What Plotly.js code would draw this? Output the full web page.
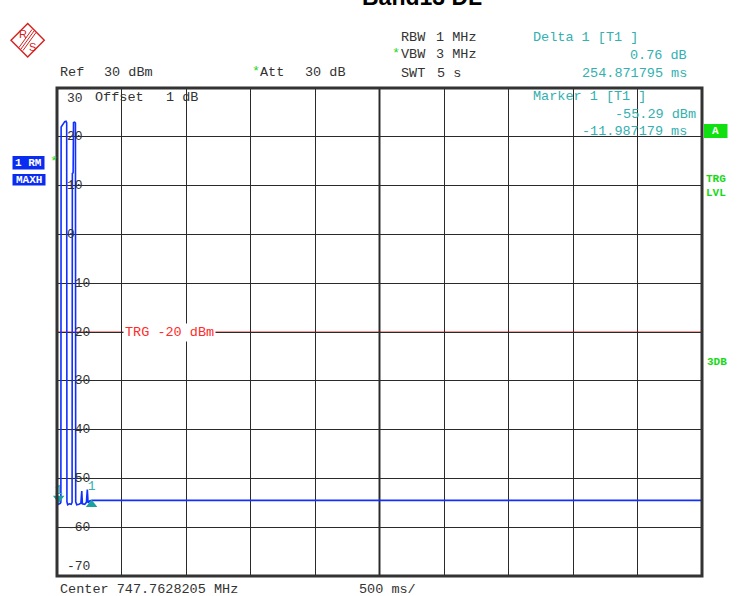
<!DOCTYPE html>
<html>
<head>
<meta charset="utf-8">
<script src="https://cdn.plot.ly/plotly-3.0.1.min.js"></script>
<style>html,body{margin:0;padding:0;background:#fff;}#chart{width:751px;height:596px;}</style>
</head>
<body>
<div id="chart"></div>
<script>
// ---------- data ----------
const timeMs   = [-25, -15, 0, 5, 7, 15, 25, 35, 45, 50, 52, 58, 70, 85, 92, 94, 100, 103, 112, 118, 120, 128, 145, 160, 167, 172, 190, 203, 210, 216, 230, 250, 500, 1000, 1500, 2000, 2500, 3000, 3500, 4000, 4500, 4975];
const levelDbm = [-55.0, -55.3, -55.1, -54.9, 22.0, 22.3, 22.7, 23.1, 23.2, 22.9, -54.8, -55.4, -55.2, -55.3, -54.9, 12.5, 12.6, 22.9, 23.0, 22.8, -54.8, -55.4, -55.3, -55.1, -52.6, -55.2, -55.3, -54.9, -52.3, -55.0, -54.6, -54.5, -54.5, -54.5, -54.5, -54.5, -54.5, -54.5, -54.5, -54.5, -54.5, -54.5];
const markerTimeMs   = [-11.987179, 242.884616];   // Marker 1, Delta 1 (= M1 + 254.871795 ms)
const markerLevelDbm = [-55.29, -54.53];
const yTickVals = [30, 20, 10, 0, -10, -20, -30, -40, -50, -60, -70];
const yTickText = ['30', '20', '10', '0', '-10', '-20', '-30', '-40', '-50', '-60', '-70'];
const triggerLevelDbm = -20;
const sweepStartMs = -25, sweepMs = 5000, divMs = 500;
const refLevel = 30, bottomLevel = -70;

// ---------- geometry helpers (layout only) ----------
const L = 57, W = 645, T = 88, H = 488;
const px = x => (x - L) / W;
const py = y => (T + H - y) / H;
const MONO = 'Liberation Mono, Courier New, monospace';
const GRAY = '#333333', TEAL = '#33b0b0', GREEN = '#18d818', BLUE = '#0a2cf0', RED = '#ff2a2a';

function txt(text, x, y, color, opts) {
  return Object.assign({
    text: text, xref: 'paper', yref: 'paper', x: px(x), y: py(y),
    xanchor: 'left', yanchor: 'middle', showarrow: false, borderpad: 0,
    font: {family: MONO, size: 13.5, color: color || GRAY}
  }, opts || {});
}

const annotations = [
  // title (cut off at top)
  {text: '<b>Band13 DL</b>', xref: 'paper', yref: 'paper', x: px(422), y: py(11), xanchor: 'center', yanchor: 'bottom',
   showarrow: false, borderpad: 0, font: {family: 'Liberation Sans, Arial, sans-serif', size: 23, color: '#000'}},
  txt('Ref', 59, 73), txt('30 dBm', 103, 73),
  txt('*', 251, 72, GREEN), txt('Att', 259, 73), txt('30 dB', 304, 73),
  txt('RBW', 400, 38), txt('1 MHz', 435, 38),
  txt('*', 391, 54, GREEN), txt('VBW', 400, 55), txt('3 MHz', 435, 55),
  txt('SWT', 400, 73.5), txt('5 s', 435.5, 73.5),
  txt('Delta 1 [T1 ]', 532, 38, TEAL),
  txt('0.76 dB', 688, 55.5, TEAL, {xanchor: 'right'}),
  txt('254.871795 ms', 688, 73.5, TEAL, {xanchor: 'right'}),
  txt('Marker 1 [T1 ]', 532, 96.5, TEAL),
  txt(markerLevelDbm[0].toFixed(2) + ' dBm', 697, 114.5, TEAL, {xanchor: 'right'}),
  txt(markerTimeMs[0].toFixed(6) + ' ms', 688, 131.5, TEAL, {xanchor: 'right'}),
  txt('Offset', 94, 98), txt('1 dB', 165, 98),
  txt('Center 747.7628205 MHz', 58.5, 589), txt(divMs + ' ms/', 357.5, 589),
  txt('<b>1 RM</b>', 28.5, 162.5, '#fff', {xanchor: 'center', font: {family: MONO, size: 11, color: '#fff'}}),
  txt('*', 48.5, 161, GREEN),
  txt('<b>MAXH</b>', 29, 179.5, '#fff', {xanchor: 'center', font: {family: MONO, size: 11, color: '#fff'}}),
  txt('<b>A</b>', 715.5, 131, '#fff', {xanchor: 'center', font: {family: MONO, size: 11, color: '#fff'}}),
  txt('<b>TRG</b>', 705, 178.5, GREEN, {font: {family: MONO, size: 11, color: GREEN}}),
  txt('<b>LVL</b>', 705, 193, GREEN, {font: {family: MONO, size: 11, color: GREEN}}),
  txt('<b>3DB</b>', 705.5, 362, GREEN, {font: {family: MONO, size: 11, color: GREEN}}),
  // R&S logo letters
  txt('R', 22.5, 34.5, '#d42020', {xanchor: 'center', font: {family: 'Liberation Sans, Arial', size: 11, color: '#d42020'}}),
  txt('S', 32.5, 47, '#d42020', {xanchor: 'center', font: {family: 'Liberation Sans, Arial', size: 11, color: '#d42020'}}),
  // trigger label
  {text: 'TRG -20 dBm', xref: 'paper', yref: 'y', x: px(123), y: triggerLevelDbm, xanchor: 'left', yanchor: 'middle',
   showarrow: false, borderpad: 1, bgcolor: '#fff', font: {family: MONO, size: 13.5, color: RED}}
];

// y-axis labels inside the grid, drawn from tick arrays
const shapes = [];
yTickVals.forEach((v, i) => {
  const shift = v === refLevel ? -10.5 : (v === bottomLevel ? 10 : 0);
  annotations.push({text: yTickText[i], xref: 'paper', yref: 'y', x: px(66), y: v, yshift: shift,
    xanchor: 'left', yanchor: 'middle', showarrow: false, borderpad: 0,
    font: {family: MONO, size: 13, color: GRAY}});
  shapes.push({type: 'rect', layer: 'between', xref: 'paper', yref: 'y', ysizemode: 'pixel', yanchor: v,
    x0: px(63.5), x1: px(66 + 8 * yTickText[i].length + 2), y0: shift - 7, y1: shift + 7,
    fillcolor: '#fff', line: {width: 0}});
});

shapes.push(
  // trigger level line
  {type: 'line', xref: 'paper', yref: 'y', x0: 0, x1: 1, y0: triggerLevelDbm, y1: triggerLevelDbm, layer: 'between',
   line: {color: RED, width: 1}},
  // centre division line (thicker)
  {type: 'line', xref: 'paper', yref: 'paper', x0: 0.5, x1: 0.5, y0: 0, y1: 1, layer: 'between', line: {color: '#333', width: 2}},
  // frame
  {type: 'rect', xref: 'paper', yref: 'paper', x0: 0, x1: 1, y0: 0, y1: 1, line: {color: '#333', width: 3}},
  // left boxes
  {type: 'rect', xref: 'paper', yref: 'paper', x0: px(12.5), x1: px(44.5), y0: py(169.5), y1: py(156), fillcolor: BLUE, line: {width: 0}},
  {type: 'rect', xref: 'paper', yref: 'paper', x0: px(12.5), x1: px(45.5), y0: py(185.5), y1: py(174), fillcolor: BLUE, line: {width: 0}},
  // A box
  {type: 'rect', xref: 'paper', yref: 'paper', x0: px(704), x1: px(727.5), y0: py(138), y1: py(124), fillcolor: '#10e010', line: {width: 0}},
  // R&S logo diamond
  {type: 'path', xref: 'paper', yref: 'paper',
   path: `M ${px(27.7)} ${py(23.5)} L ${px(44.3)} ${py(40.3)} L ${px(27.7)} ${py(57)} L ${px(11)} ${py(40.3)} Z`,
   line: {color: '#d42020', width: 1.4}},
  {type: 'path', xref: 'paper', yref: 'paper',
   path: `M ${px(34)} ${py(31)} L ${px(21)} ${py(49)} M ${px(36)} ${py(32.5)} L ${px(23)} ${py(50.5)} M ${px(32)} ${py(29.5)} L ${px(19)} ${py(47.5)}`,
   line: {color: '#d42020', width: 1}}
);

const traces = [
  {x: timeMs, y: levelDbm, type: 'scatter', mode: 'lines', line: {color: '#1030ff', width: 1.6},
   hoverinfo: 'skip', showlegend: false},
  {x: [markerTimeMs[0]], y: [markerLevelDbm[0]], type: 'scatter', mode: 'markers+text', text: ['1'],
   textposition: 'top center', textfont: {family: MONO, size: 13, color: TEAL},
   marker: {symbol: 'triangle-up', angle: 180, size: 10, color: '#1fa0a0', standoff: 6}, cliponaxis: false, showlegend: false},
  {x: [markerTimeMs[1]], y: [markerLevelDbm[1]], type: 'scatter', mode: 'markers+text', text: ['1'],
   textposition: 'top center', textfont: {family: MONO, size: 13, color: TEAL},
   marker: {symbol: 'triangle-up', size: 10, color: '#1fa0a0', standoff: 4}, cliponaxis: false, showlegend: false}
];

const layout = {
  width: 751, height: 596,
  margin: {l: L, r: 751 - L - W, t: T, b: 596 - T - H, pad: 0},
  paper_bgcolor: '#fff', plot_bgcolor: '#fff',
  showlegend: false,
  xaxis: {range: [sweepStartMs, sweepStartMs + sweepMs], tick0: sweepStartMs, dtick: divMs, showgrid: true,
          gridcolor: '#2a2a2a', gridwidth: 1, zeroline: false, showticklabels: false, ticks: '', showline: false, fixedrange: true},
  yaxis: {range: [bottomLevel, refLevel], tick0: bottomLevel, dtick: 10, showgrid: true,
          gridcolor: '#2a2a2a', gridwidth: 1, zeroline: false, showticklabels: false, ticks: '', showline: false, fixedrange: true},
  annotations: annotations,
  shapes: shapes
};

Plotly.newPlot('chart', traces, layout, {staticPlot: true, displayModeBar: false});
</script>
</body>
</html>
